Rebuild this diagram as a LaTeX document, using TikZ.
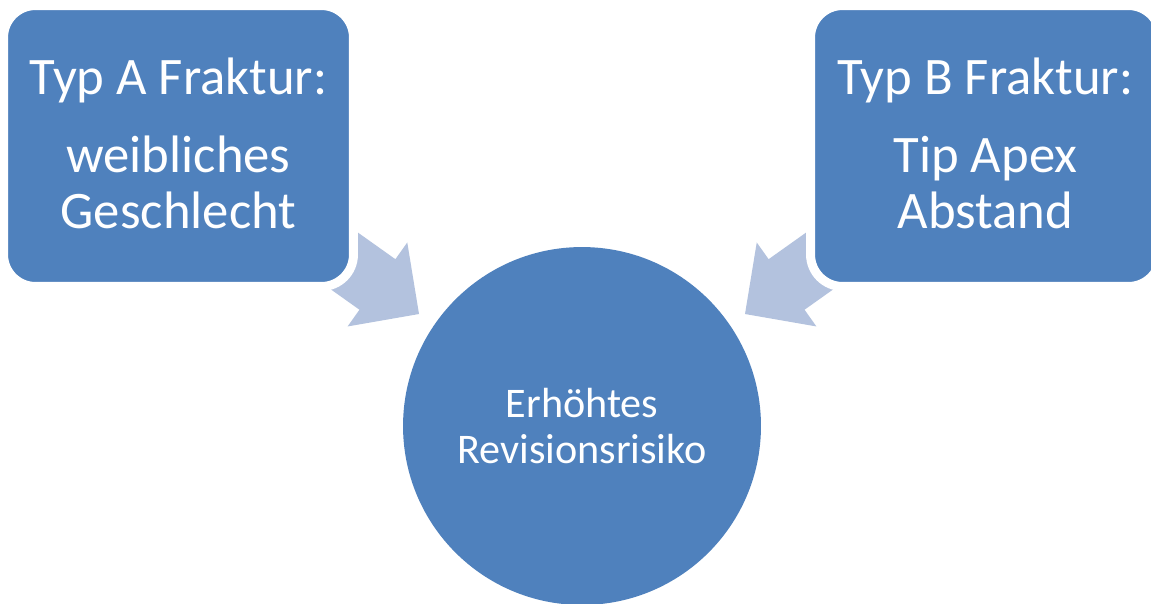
\documentclass[tikz,border=0pt]{standalone}
\usepackage{fontspec}
\setmainfont{Carlito}
\usetikzlibrary{positioning}
\definecolor{ConvBlue}{HTML}{4F81BD}
\definecolor{ConvArrow}{HTML}{B3C2DE}
\tikzset{
    conv/diagram/.style={x=0.02cm, y=-0.02cm},
    conv/box/.style={
        rectangle, rounded corners=0.64cm,
        fill=ConvBlue, draw=white, line width=0.18cm,
        minimum width=7cm, minimum height=5.62cm, inner sep=0pt,
        text=white, align=center,
        font=\fontsize{30}{31.75}\selectfont
    },
    conv/hub/.style={
        circle, fill=ConvBlue, draw=none,
        minimum size=7.16cm, inner sep=0pt,
        text=white, align=center,
        font=\fontsize{24}{26}\selectfont
    },
    conv/arrow/.pic={
        \fill[ConvArrow] (0,0) -- (-51,51.5) -- (-51,31) -- (-150,31)
            -- (-150,-31) -- (-51,-31) -- (-51,-51.5) -- cycle;
    }
}
\newcommand\lowstrut{\rule[-3pt]{0pt}{0pt}}

\begin{document}
\begin{tikzpicture}[conv/diagram]
    \useasboundingbox[fill=white] (0,0) rectangle (1151,603);

    % Converging arrows, tails hidden under the boxes.
    \pic[rotate=-35.4] at (419,314) {conv/arrow};
    \pic[rotate=-144.6] at (745,314) {conv/arrow};

    \node[conv/box] (typA) at (178.5,146)
        {Typ A Fraktur:\\[12.5pt]weibliches\\Geschlecht\lowstrut};
    \node[conv/box] (typB) at (985.5,146)
        {Typ B Fraktur:\\[12.5pt]Tip Apex\\Abstand\lowstrut};

    \node[conv/hub] (risk) at (582,426) {Erhöhtes\\Revisionsrisiko};
\end{tikzpicture}
\end{document}
